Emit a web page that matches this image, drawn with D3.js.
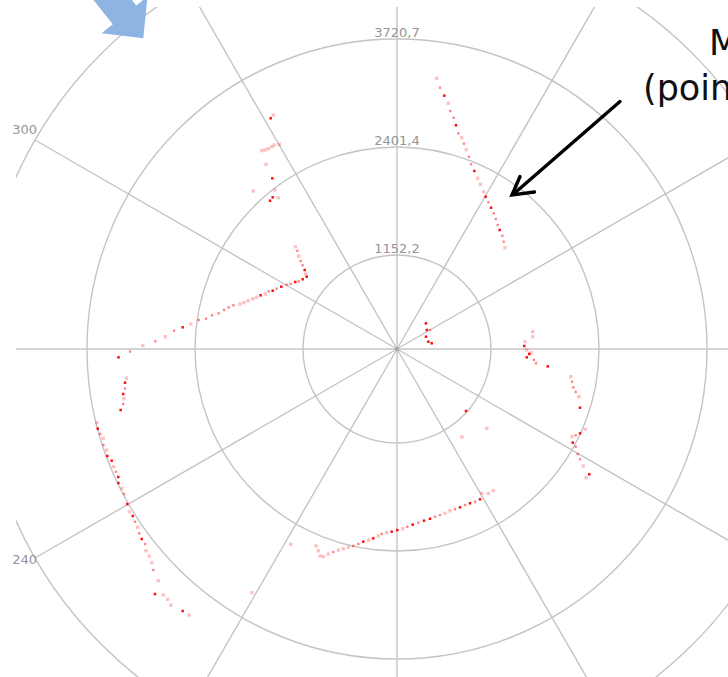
<!DOCTYPE html>
<html>
<head>
<meta charset="utf-8">
<script src="https://cdn.jsdelivr.net/npm/d3@7"></script>
<style>
  html, body { margin: 0; padding: 0; background: #fff; }
  svg { display: block; }
</style>
</head>
<body>
<svg id="chart" width="728" height="677"></svg>
<script>
// Polar grid ticks
const angleTicks = [0, 30, 60, 90, 120, 150, 180, 210, 240, 270, 300, 330];
const rangeTicks = [1152.2, 2401.4, 3720.7, 5040.0];

// Scan returns: bearing (deg, clockwise from north), range (mm), return quality (1 weak .. 3 strong)
const scanAngle = [
  // north-east wall
  8.34, 9.35, 10.58, 11.79, 12.62, 13.77, 14.77, 15.87, 17.02, 18.07, 19.17, 20.53, 21.83, 23.47,
  25.30, 26.83, 28.86, 30.22, 31.90, 33.64, 35.48, 37.21, 39.08, 40.80, 42.91, 44.84, 46.83,
  // west corner and walls
  315.17, 314.59, 313.42, 312.43, 311.59, 310.56, 309.40, 308.68, 306.47, 304.55, 303.38, 301.45,
  300.24, 298.30, 296.62, 295.12, 294.22, 292.67, 291.50, 290.23, 289.22, 287.96, 286.84, 285.99,
  284.95, 283.92, 282.70, 281.32, 280.32, 279.01, 278.32, 276.91, 275.78, 274.69, 273.04, 271.82,
  270.79, 269.46, 268.29, 263.84, 262.94, 261.74, 260.66, 259.68, 258.64, 257.55, 256.21, 255.09,
  254.03, 253.09, 251.90, 250.82, 249.73, 248.62, 247.44, 246.41, 245.33, 244.31, 243.15, 242.03,
  240.11, 238.71, 237.71, 236.61, 235.49, 234.44, 233.34, 232.27, 231.21, 230.11, 228.94, 227.80,
  225.85, 224.65, 223.54, 222.49, 221.44, 219.28, 218.02,
  // north-west objects
  332.14, 331.30, 330.10, 328.97, 328.23, 327.28, 326.44, 325.70, 324.65, 323.85, 317.71, 322.50,
  320.67, 321.89, 319.43,
  // near object
  48.45, 57.39, 67.02, 76.87, 80.67, 60.07,
  // east objects
  82.73, 84.82, 86.74, 88.65, 90.44, 92.16, 93.66, 91.58, 94.59, 95.87, 96.55, 99.06, 100.58,
  102.26, 103.53, 104.69, 107.78, 113.10, 114.73, 116.61, 115.78, 118.07, 118.66, 120.16, 121.08,
  122.13, 123.09, 124.25,
  // south-east strays
  131.94, 143.56, 131.47,
  // south wall
  149.59, 147.68, 145.80, 151.09, 152.94, 154.68, 156.45, 158.30, 160.11, 161.85, 163.71, 165.48,
  167.23, 169.00, 171.06, 173.01, 174.89, 176.68, 178.18, 179.91, 181.66, 183.21, 184.73, 185.71,
  187.14, 188.43, 189.92, 191.22, 192.51, 193.80, 195.05, 196.28, 197.42, 198.53, 199.54, 200.40,
  201.31, 202.35, 208.56, 210.81
];
const scanRange = [
  3276, 3169, 3082, 3000, 2913, 2842, 2761, 2673, 2634, 2572, 2511, 2441, 2367, 2310,
  2249, 2200, 2142, 2103, 2064, 2028, 1992, 1953, 1912, 1883, 1854, 1815, 1778,

  1733, 1684, 1630, 1574, 1524, 1470, 1432, 1403, 1422, 1446, 1474, 1506,
  1542, 1585, 1622, 1653, 1692, 1716, 1760, 1794, 1832, 1876, 1915, 1954,
  2024, 2071, 2116, 2168, 2240, 2302, 2383, 2472, 2565, 2667, 2768, 2888,
  3040, 3195, 3337, 3258, 3282, 3292, 3323, 3324, 3345, 3391, 3711, 3717,
  3707, 3684, 3708, 3689, 3706, 3677, 3682, 3680, 3681, 3710, 3699, 3710,
  3734, 3761, 3752, 3767, 3778, 3804, 3821, 3826, 3867, 3877, 3907, 3953,
  3998, 4141, 4079, 4081, 4110, 4069, 4059,

  3167, 3147, 2818, 2842, 2841, 2842, 2851, 2867, 2699, 2516, 2543, 2383,
  2333, 2289, 2323,

  474, 433, 386, 394, 431, 467,

  1647, 1641, 1548, 1537, 1565, 1596, 1569, 1616, 1654, 1681, 1820, 2100, 2124,
  2152, 2191, 2241, 2288, 2434, 2396, 2329, 2360, 2368, 2422, 2487, 2544,
  2621, 2737, 2728,

  1137, 1330, 1450,

  2000, 2041, 2046, 2051, 2049, 2039, 2033, 2036, 2037, 2034, 2045, 2049,
  2054, 2065, 2075, 2089, 2105, 2124, 2145, 2159, 2179, 2193, 2212, 2238,
  2272, 2299, 2327, 2364, 2399, 2428, 2460, 2492, 2533, 2575, 2626, 2632,
  2579, 2536, 2651, 3399
];
const scanQuality = [
  1, 2, 3, 1, 2, 2, 3, 2, 1, 2, 1, 2, 2, 3,
  1, 1, 1, 3, 2, 3, 2, 2, 2, 3, 2, 2, 1,

  1, 2, 1, 2, 2, 3, 1, 3, 3, 2, 3, 2,
  2, 3, 2, 3, 2, 1, 3, 1, 1, 1, 1, 1,
  2, 2, 2, 2, 2, 2, 2, 1, 3, 2, 1, 2,
  1, 2, 3, 1, 3, 2, 3, 1, 2, 3, 1, 3,
  2, 1, 2, 1, 3, 3, 1, 2, 3, 3, 1, 2,
  3, 1, 3, 2, 1, 2, 3, 2, 1, 1, 1, 2,
  1, 3, 1, 1, 1, 3, 1,

  1, 3, 1, 1, 1, 1, 1, 1, 1, 3, 1, 1,
  3, 1, 3,

  3, 3, 3, 3, 3, 2,

  1, 1, 1, 3, 1, 3, 3, 1, 2, 2, 3, 1, 2,
  2, 2, 1, 3, 1, 3, 1, 2, 3, 2, 2, 2,
  1, 3, 1,

  3, 1, 1,

  1, 1, 1, 3, 2, 3, 2, 3, 2, 1, 1, 2,
  2, 3, 3, 2, 3, 2, 1, 3, 3, 1, 2, 1,
  3, 1, 3, 2, 2, 1, 1, 1, 2, 1, 1, 1,
  1, 1, 1, 1
];

const width = 728, height = 677;
const cx = 397, cy = 349;
const svg = d3.select("#chart");

svg.append("rect").attr("width", width).attr("height", height).attr("fill", "#fff");

// Radial scale: the rings sit at equal steps
const rScale = d3.scaleLinear()
  .domain([0, ...rangeTicks])
  .range([0, 94, 202, 310, 418]);
const aScale = d3.scaleLinear().domain([0, 360]).range([0, 2 * Math.PI]);
const rMax = rScale(rangeTicks[rangeTicks.length - 1]);

const px = (deg, rr) => cx + rr * Math.sin(aScale(deg));
const py = (deg, rr) => cy - rr * Math.cos(aScale(deg));

const fmt = d3.formatLocale({ decimal: ",", thousands: "", grouping: [3], currency: ["", ""] }).format(".1f");

// Plot area clip
svg.append("clipPath").attr("id", "plotClip")
  .append("rect").attr("x", 16).attr("y", 7).attr("width", width - 16).attr("height", height - 7);

const grid = svg.append("g").attr("clip-path", "url(#plotClip)");
const gridColor = "#c4c4c4";

grid.selectAll("circle.ring")
  .data(rangeTicks)
  .join("circle")
  .attr("class", "ring")
  .attr("cx", cx).attr("cy", cy)
  .attr("r", d => rScale(d))
  .attr("fill", "none")
  .attr("stroke", gridColor)
  .attr("stroke-width", 1.4);

grid.selectAll("line.spoke")
  .data(angleTicks)
  .join("line")
  .attr("class", "spoke")
  .attr("x1", cx).attr("y1", cy)
  .attr("x2", d => px(d, rMax))
  .attr("y2", d => py(d, rMax))
  .attr("stroke", gridColor)
  .attr("stroke-width", 1.4);

svg.append("circle").attr("cx", cx).attr("cy", cy).attr("r", 2.2).attr("fill", "#a8a8a8");

const labelFont = "DejaVu Sans, Verdana, sans-serif";
const inView = (x, y) => x > 10 && x < width - 10 && y > 14 && y < height;

// Range labels along the north spoke (only those that fall on the page)
svg.selectAll("text.rlabel")
  .data(rangeTicks.filter(d => inView(cx, cy - rScale(d) - 2.5)))
  .join("text")
  .attr("class", "rlabel")
  .attr("x", cx)
  .attr("y", d => cy - rScale(d) - 2.5)
  .attr("text-anchor", "middle")
  .attr("font-family", labelFont)
  .attr("font-size", 13)
  .attr("fill", "#959595")
  .text(d => fmt(d));

// Bearing labels outside the outer ring (only those that fall on the page)
svg.selectAll("text.alabel")
  .data(angleTicks.filter(d => inView(px(d, 430), py(d, 430))))
  .join("text")
  .attr("class", "alabel")
  .attr("x", d => px(d, 430))
  .attr("y", d => py(d, 430))
  .attr("text-anchor", "middle")
  .attr("font-family", labelFont)
  .attr("font-size", 13)
  .attr("fill", "#959595")
  .text(d => d);

// Scan points
const opacity = d3.scaleOrdinal().domain([1, 2, 3]).range([0.24, 0.5, 0.95]);
const size = d3.scaleOrdinal().domain([1, 2, 3]).range([3.4, 2.3, 2.5]);
const points = scanAngle.map((a, i) => ({ a, r: scanRange[i], q: scanQuality[i] }));

svg.append("g").selectAll("rect")
  .data(points)
  .join("rect")
  .attr("x", d => px(d.a, rScale(d.r)) - size(d.q) / 2)
  .attr("y", d => py(d.a, rScale(d.r)) - size(d.q) / 2)
  .attr("width", d => size(d.q))
  .attr("height", d => size(d.q))
  .attr("fill", "#ff0000")
  .attr("fill-opacity", d => opacity(d.q));

// Heading marker (block arrow)
svg.append("path")
  .attr("d", "M75.3,-22.7 L112.8,24.2 L101.6,33.25 L143.3,38.3 L147.5,-3.5 L136.3,5.5 L98.8,-41.4 Z")
  .attr("fill", "#8eb4e3");

// Callout
svg.append("line")
  .attr("x1", 620).attr("y1", 101.5).attr("x2", 513).attr("y2", 194.5)
  .attr("stroke", "#000").attr("stroke-width", 3.4).attr("stroke-linecap", "round");
svg.append("path")
  .attr("d", "M520,176.5 L512,195 L534.5,192")
  .attr("fill", "none").attr("stroke", "#000").attr("stroke-width", 3.4)
  .attr("stroke-linecap", "round").attr("stroke-linejoin", "miter");

const callout = svg.append("text")
  .attr("font-family", labelFont)
  .attr("font-size", 35)
  .attr("fill", "#111");
callout.append("tspan").attr("x", 709).attr("y", 55).text("M");
callout.append("tspan").attr("x", 643).attr("y", 100).text("(poin");
</script>
</body>
</html>
